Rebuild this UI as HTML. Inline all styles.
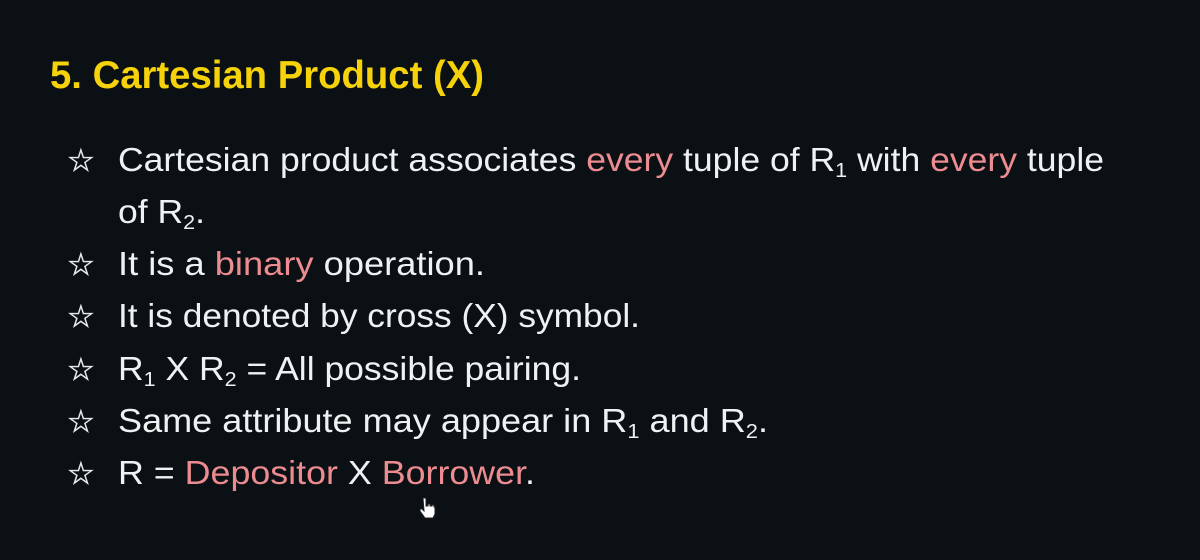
<!DOCTYPE html>
<html><head><meta charset="utf-8"><style>
html,body{margin:0;padding:0;background:#0a1014;}
svg{display:block}
text{font-family:"Liberation Sans","DejaVu Sans",sans-serif;}
.w{fill:#eef2f2;font-size:33px;}
.p{fill:#ec8c90;}
.s{font-size:20px;}
.st{fill:#e6eaea;font-family:"DejaVu Sans",sans-serif;font-size:31px;stroke:#e6eaea;stroke-width:0.6;}
</style></head><body>
<svg width="1200" height="560" viewBox="0 0 1200 560">
<rect width="1200" height="560" fill="#0a1014"/>
<text x="50" y="88" fill="#f5d20a" font-size="39" font-weight="bold" textLength="434" lengthAdjust="spacingAndGlyphs">5. Cartesian Product (X)</text>

<text class="st" x="67" y="171">☆</text>
<text class="st" x="67" y="275">☆</text>
<text class="st" x="67" y="327">☆</text>
<text class="st" x="67" y="380">☆</text>
<text class="st" x="67" y="432">☆</text>
<text class="st" x="67" y="484">☆</text>

<text class="w" x="118" y="171" textLength="986" lengthAdjust="spacingAndGlyphs">Cartesian product associates <tspan class="p">every</tspan> tuple of R<tspan class="s" dy="6">1</tspan><tspan dy="-6"> with </tspan><tspan class="p">every</tspan> tuple</text>
<text class="w" x="118" y="223" textLength="87" lengthAdjust="spacingAndGlyphs">of R<tspan class="s" dy="6">2</tspan><tspan dy="-6">.</tspan></text>
<text class="w" x="118" y="275" textLength="367" lengthAdjust="spacingAndGlyphs">It is a <tspan class="p">binary</tspan> operation.</text>
<text class="w" x="118" y="327" textLength="522" lengthAdjust="spacingAndGlyphs">It is denoted by cross (X) symbol.</text>
<text class="w" x="118" y="380" textLength="463" lengthAdjust="spacingAndGlyphs">R<tspan class="s" dy="6">1</tspan><tspan dy="-6"> X R</tspan><tspan class="s" dy="6">2</tspan><tspan dy="-6"> = All possible pairing.</tspan></text>
<text class="w" x="118" y="432" textLength="650" lengthAdjust="spacingAndGlyphs">Same attribute may appear in R<tspan class="s" dy="6">1</tspan><tspan dy="-6"> and R</tspan><tspan class="s" dy="6">2</tspan><tspan dy="-6">.</tspan></text>
<text class="w" x="118" y="484" textLength="417" lengthAdjust="spacingAndGlyphs">R = <tspan class="p">Depositor</tspan> X <tspan class="p">Borrower</tspan>.</text>

<g transform="translate(420,498)" fill="#fff" stroke="#222" stroke-width="1">
<path d="M3 0 h3 v8 h2 v-2 h2 v2 h2 v-1 h2 v2 h1 v7 l-2 4 h-8 l-5 -7 v-2 h2 l2 2 z"/>
</g>
</svg>
</body></html>
